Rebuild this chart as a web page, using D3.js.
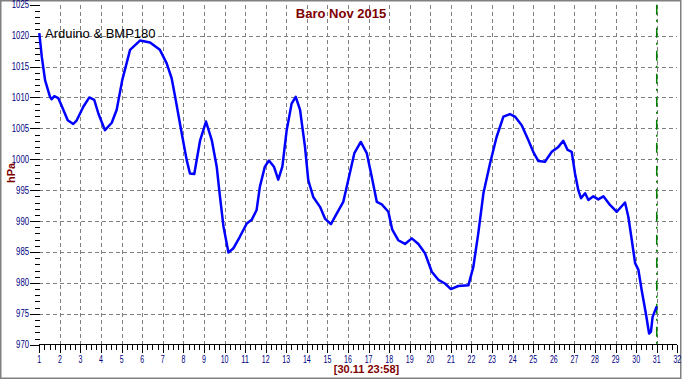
<!DOCTYPE html>
<html>
<head>
<meta charset="utf-8">
<script src="https://cdn.jsdelivr.net/npm/d3@7"></script>
<style>
  body { margin: 0; background: #fff; }
  svg { display: block; }
  .grid line { stroke: #808080; stroke-width: 1; stroke-dasharray: 4 3; shape-rendering: crispEdges; }
  .tick-lbl { font-family: "Liberation Sans", Arial, sans-serif; font-size: 10px; fill: #000080; }
</style>
</head>
<body>
<script>
// day of month (Nov 2015) and pressure readings in hPa
const days = [1.0, 1.12, 1.28, 1.52, 1.6, 1.73, 1.92, 2.09, 2.38, 2.65, 2.82, 3.14, 3.43, 3.67, 3.87,
  4.19, 4.52, 4.76, 5.03, 5.41, 5.89, 6.38, 6.86, 7.19, 7.43, 7.6, 7.92, 8.16, 8.32, 8.53, 8.81,
  9.1, 9.38, 9.62, 9.78, 9.95, 10.19, 10.43, 10.75, 11.08, 11.32, 11.56, 11.72, 11.96, 12.16, 12.4,
  12.61, 12.81, 13.02, 13.26, 13.46, 13.67, 13.91, 14.07, 14.31, 14.64, 14.88, 15.17, 15.45, 15.77,
  16.01, 16.31, 16.62, 16.91, 17.15, 17.4, 17.64, 17.96, 18.15, 18.44, 18.77, 19.1, 19.42, 19.74,
  20.07, 20.39, 20.71, 21.0, 21.36, 21.85, 22.09, 22.33, 22.58, 22.9, 23.22, 23.55, 23.87, 24.11,
  24.44, 24.76, 25.0, 25.25, 25.57, 25.9, 26.22, 26.46, 26.67, 26.87, 27.03, 27.19, 27.32, 27.52,
  27.68, 27.92, 28.16, 28.41, 28.73, 29.06, 29.46, 29.62, 29.79, 29.95, 30.11, 30.27, 30.47, 30.63,
  30.72, 30.8, 31.0];
const pressure = [1020.4, 1016.6, 1012.8, 1010.1, 1009.7, 1010.2, 1009.9, 1008.6, 1006.3, 1005.7, 1006.3,
  1008.5, 1010.0, 1009.6, 1007.4, 1004.7, 1005.9, 1008.0, 1012.8, 1017.7, 1019.2, 1018.9, 1017.7,
  1015.5, 1013.1, 1010.1, 1004.2, 999.9, 997.7, 997.6, 1003.0, 1006.1, 1003.1, 998.8, 993.9, 989.1,
  984.9, 985.6, 987.5, 989.6, 990.2, 991.8, 995.6, 998.8, 999.8, 998.8, 996.7, 998.8, 1004.7, 1009.0,
  1010.1, 1008.0, 1002.0, 996.6, 993.9, 992.3, 990.4, 989.5, 991.2, 993.1, 996.6, 1001.0, 1002.8,
  1001.0, 997.2, 993.1, 992.7, 991.5, 988.6, 986.9, 986.3, 987.2, 986.3, 984.8, 981.8, 980.5, 979.9,
  979.0, 979.5, 979.6, 982.6, 988.0, 994.5, 999.3, 1003.6, 1006.9, 1007.3, 1006.9, 1005.5, 1003.1,
  1001.2, 999.7, 999.6, 1001.2, 1002.0, 1003.0, 1001.5, 1001.2, 997.7, 995.0, 993.7, 994.5, 993.4,
  994.0, 993.5, 994.0, 992.6, 991.5, 993.0, 990.7, 986.9, 983.2, 982.1, 978.8, 975.1, 971.8, 972.1,
  974.5, 976.2];

const xTicks = d3.range(1, 33);                 // 1 .. 32
const yTicks = d3.range(970, 1026, 5);          // 970 .. 1025
const title = "Baro Nov 2015";
const subtitle = "Arduino & BMP180";
const yLabel = "hPa";
const stamp = "[30.11 23:58]";
const markerDay = 31;

const W = 682, H = 380;
const x = d3.scaleLinear().domain([1, 32]).range([39.3, 677.3]);
const y = d3.scaleLinear().domain([970, 1025]).range([344.7, 4.7]);

const svg = d3.select("body").append("svg").attr("width", W).attr("height", H);

// frame
svg.append("rect")
  .attr("x", 0.75).attr("y", 0.75).attr("width", 680).attr("height", 377.5)
  .attr("fill", "#fff").attr("stroke", "#808080").attr("stroke-width", 1.5);

// grid
const grid = svg.append("g").attr("class", "grid");
grid.selectAll(".gv").data(xTicks.filter((d) => d > 1 && d < 32)).enter().append("line")
  .attr("x1", (d) => Math.round(x(d)) + 0.5).attr("x2", (d) => Math.round(x(d)) + 0.5)
  .attr("y1", y(1025)).attr("y2", y(970));
grid.selectAll(".gh").data(yTicks.filter((d) => d > 970 && d < 1025)).enter().append("line")
  .attr("x1", x(1)).attr("x2", x(32))
  .attr("y1", (d) => Math.round(y(d)) + 0.5).attr("y2", (d) => Math.round(y(d)) + 0.5);

// y axis ticks (major every 5, minor every 1)
const yAx = svg.append("g").attr("shape-rendering", "crispEdges");
yAx.selectAll("line.minor").data(d3.range(970, 1026, 1)).enter().append("line")
  .attr("x1", (d) => (d % 5 === 0 ? 29.5 : 35)).attr("x2", 39.5)
  .attr("y1", (d) => Math.round(y(d)) + 0.5).attr("y2", (d) => Math.round(y(d)) + 0.5)
  .attr("stroke", "#000");
yAx.selectAll("text").data(yTicks).enter().append("text")
  .attr("class", "tick-lbl")
  .attr("x", 29).attr("y", (d) => y(d) + 3.5)
  .attr("text-anchor", "end")
  .attr("textLength", (d) => String(d).length * 4.3)
  .attr("lengthAdjust", "spacingAndGlyphs")
  .text((d) => d);

// x axis
const xAx = svg.append("g").attr("shape-rendering", "crispEdges");
xAx.append("line")
  .attr("x1", x(1)).attr("x2", x(32))
  .attr("y1", 344.5).attr("y2", 344.5).attr("stroke", "#000");
xAx.selectAll("line.t").data(d3.range(4, 129).map((i) => i / 4)).enter().append("line")
  .attr("x1", (d) => Math.round(x(d)) + 0.5).attr("x2", (d) => Math.round(x(d)) + 0.5)
  .attr("y1", 344.5).attr("y2", (d) => (Number.isInteger(d) ? 353 : 350))
  .attr("stroke", "#000");
xAx.selectAll("text").data(xTicks).enter().append("text")
  .attr("class", "tick-lbl")
  .attr("x", (d) => x(d)).attr("y", 363)
  .attr("text-anchor", "middle")
  .attr("textLength", (d) => String(d).length * 3.9)
  .attr("lengthAdjust", "spacingAndGlyphs")
  .text((d) => d);

// end-of-data marker
svg.append("line")
  .attr("x1", x(markerDay)).attr("x2", x(markerDay))
  .attr("y1", y(1025)).attr("y2", y(970))
  .attr("stroke", "#008000").attr("stroke-width", 1.5)
  .attr("stroke-dasharray", "10 5 2 6");

// pressure line
const series = days.map((d, i) => ({ day: d, hpa: pressure[i] }));
const line = d3.line().x((d) => x(d.day)).y((d) => y(d.hpa));
svg.append("path")
  .datum(series)
  .attr("d", line)
  .attr("fill", "none")
  .attr("stroke", "#0000ff")
  .attr("stroke-width", 2.5)
  .attr("stroke-linejoin", "round");

// texts
svg.append("text")
  .attr("x", 341).attr("y", 18).attr("text-anchor", "middle")
  .attr("font-family", "Liberation Sans, Arial, sans-serif").attr("font-size", 13)
  .attr("font-weight", "bold").attr("fill", "#800000")
  .text(title);

svg.append("text")
  .attr("x", 45).attr("y", 38)
  .attr("font-family", "Liberation Sans, Arial, sans-serif").attr("font-size", 13)
  .attr("fill", "#000")
  .text(subtitle);

svg.append("text")
  .attr("transform", "translate(15,173) rotate(-90)")
  .attr("text-anchor", "middle")
  .attr("font-family", "Liberation Sans, Arial, sans-serif").attr("font-size", 11)
  .attr("font-weight", "bold").attr("fill", "#800000")
  .text(yLabel);

svg.append("text")
  .attr("x", 366.5).attr("y", 373).attr("text-anchor", "middle")
  .attr("font-family", "Liberation Sans, Arial, sans-serif").attr("font-size", 11)
  .attr("font-weight", "bold").attr("fill", "#800000")
  .text(stamp);
</script>
</body>
</html>
